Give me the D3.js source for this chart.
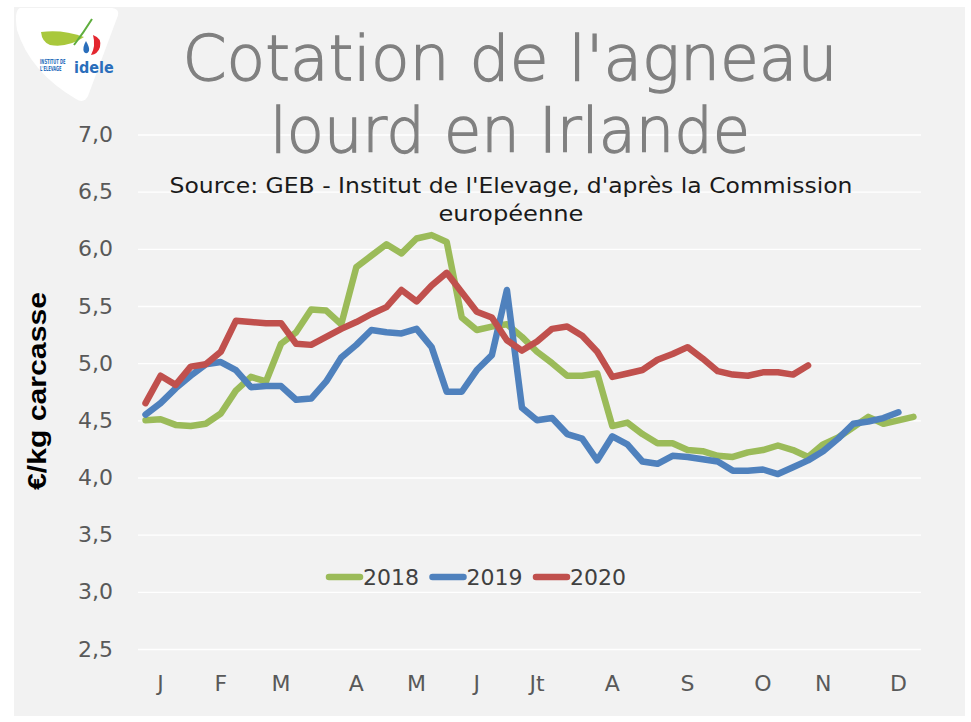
<!DOCTYPE html>
<html>
<head>
<meta charset="utf-8">
<script src="https://cdn.jsdelivr.net/npm/d3@7"></script>
<style>
  body { margin: 0; background: #ffffff; }
  svg text { font-family: "DejaVu Sans", sans-serif; }
</style>
</head>
<body>
<div id="chart"></div>
<script>
// semaines de l'année (axe catégoriel)
const weeks = d3.range(1, 53);
const months = ["J", "F", "M", "A", "M", "J", "Jt", "A", "S", "O", "N", "D"];
const monthWeeks = [2, 6, 10, 15, 19, 23, 27, 32, 37, 42, 46, 51];
const yTicks = [2.5, 3, 3.5, 4, 4.5, 5, 5.5, 6, 6.5, 7];
const years = ["2018", "2019", "2020"];

const prix2018 = [4.50, 4.51, 4.46, 4.45, 4.47, 4.56, 4.76, 4.88, 4.84, 5.17,
  5.27, 5.47, 5.46, 5.34, 5.84, 5.94, 6.04, 5.96, 6.09, 6.12,
  6.06, 5.40, 5.29, 5.32, 5.34, 5.23, 5.10, 5.00, 4.89, 4.89,
  4.91, 4.45, 4.48, 4.38, 4.30, 4.30, 4.24, 4.23, 4.19, 4.18,
  4.22, 4.24, 4.28, 4.24, 4.18, 4.29, 4.35, 4.44, 4.53, 4.47,
  4.50, 4.53];
const prix2019 = [4.55, 4.65, 4.78, 4.89, 4.99, 5.01, 4.94, 4.79, 4.80, 4.80,
  4.68, 4.69, 4.84, 5.05, 5.16, 5.29, 5.27, 5.26, 5.30, 5.14,
  4.75, 4.75, 4.94, 5.07, 5.64, 4.61, 4.50, 4.52, 4.38, 4.34,
  4.15, 4.36, 4.29, 4.14, 4.12, 4.19, 4.18, 4.16, 4.14, 4.06,
  4.06, 4.07, 4.03, 4.09, 4.15, 4.23, 4.34, 4.47, 4.49, 4.52,
  4.57];
const prix2020 = [4.65, 4.89, 4.81, 4.97, 4.99, 5.10, 5.37, 5.36, 5.35, 5.35,
  5.17, 5.16, 5.23, 5.30, 5.36, 5.43, 5.49, 5.64, 5.54, 5.68,
  5.79, 5.62, 5.45, 5.40, 5.20, 5.11, 5.19, 5.30, 5.32, 5.24,
  5.10, 4.88, 4.91, 4.94, 5.03, 5.08, 5.14, 5.04, 4.93, 4.90,
  4.89, 4.92, 4.92, 4.90, 4.98];

const colors = ["#9bbb59", "#4f81bd", "#c0504d"];

class Cotation {
  constructor(config) {
    this.config = config;
    this.svg = null;
    this.xScale = null;
    this.yScale = null;
    this.series = [prix2018, prix2019, prix2020];

    this.createSvg();
    this.createScales();
    this.renderLogo();
    this.createAxis();
    this.renderTitles();
    this.renderLines();
    this.renderLegend();
  }

  createSvg() {
    this.svg = d3.select(this.config.div)
      .append("svg")
      .attr("width", this.config.width)
      .attr("height", this.config.height);

    this.svg.append("rect")
      .attr("x", 14)
      .attr("y", 7)
      .attr("width", this.config.width - 20)
      .attr("height", this.config.height - 13)
      .attr("fill", "#f2f2f2");
  }

  createScales() {
    this.xScale = d3.scaleBand().domain(weeks).range([this.config.left, this.config.right]);
    this.yScale = d3.scaleLinear().domain([2.5, 7]).range([this.config.bottom, this.config.top]);
  }

  renderLogo() {
    const g = this.svg.append("g");
    g.append("path")
      .attr("d", "M20,8 L112,8 Q121,9 117,18 L88,96 Q84,104 76,99 Q30,72 17,30 Q14,10 20,8 Z")
      .attr("fill", "#ffffff");
    g.append("path")
      .attr("d", "M41,32 Q62,29 84,37 Q68,48 50,45 Q42,42 41,32 Z")
      .attr("fill", "#a9c83c");
    g.append("path")
      .attr("d", "M74,45 Q84,32 92,19")
      .attr("fill", "none")
      .attr("stroke", "#5fae3e")
      .attr("stroke-width", 2);
    g.append("path")
      .attr("d", "M93,35 Q102,38 100,47 Q98,54 91,55 Q96,46 93,35 Z")
      .attr("fill", "#e3262f");
    g.append("path")
      .attr("d", "M86,41 Q90,48 89,51 Q87,55 84,52 Q82,48 86,41 Z")
      .attr("fill", "#2a6ebb");
    [["INSTITUT DE", 64], ["L'ELEVAGE", 71]].forEach(d => {
      g.append("text")
        .attr("transform", `translate(40,${d[1]}) scale(0.52,1)`)
        .style("font-size", "7px").style("font-weight", "bold").attr("fill", "#2a6ebb")
        .text(d[0]);
    });
    g.append("text")
      .attr("transform", "translate(74,73) scale(0.9,1)")
      .style("font-size", "16px").style("font-weight", "bold").attr("fill", "#2a6ebb")
      .text("idele");
  }

  renderTitles() {
    const titles = [
      { t: "Cotation de l'agneau", y: 80, w: 655 },
      { t: "lourd en Irlande", y: 152, w: 480 }
    ];
    titles.forEach(d => {
      this.svg.append("text")
        .attr("x", 510).attr("y", d.y)
        .attr("text-anchor", "middle")
        .attr("textLength", d.w).attr("lengthAdjust", "spacingAndGlyphs")
        .style("font-size", "63px")
        .style("font-weight", "300")
        .attr("fill", "#808080")
        .attr("stroke", "#808080")
        .attr("stroke-width", 1.3)
        .text(d.t);
    });

    const sub = [
      { t: "Source: GEB - Institut de l'Elevage, d'après la Commission", y: 193, w: 683 },
      { t: "européenne", y: 221, w: 145 }
    ];
    sub.forEach(d => {
      this.svg.append("text")
        .attr("x", 511).attr("y", d.y)
        .attr("text-anchor", "middle")
        .attr("textLength", d.w).attr("lengthAdjust", "spacingAndGlyphs")
        .style("font-size", "22px")
        .attr("fill", "#1a1a1a")
        .text(d.t);
    });

    this.svg.append("text")
      .attr("transform", "rotate(-90)")
      .attr("x", -391)
      .attr("y", 46)
      .attr("text-anchor", "middle")
      .attr("textLength", 198).attr("lengthAdjust", "spacingAndGlyphs")
      .style("font-family", "'Liberation Sans', Arial, sans-serif")
      .style("font-size", "25px")
      .style("font-weight", "bold")
      .attr("fill", "#000000")
      .text("€/kg carcasse");
  }

  createAxis() {
    const w = this.config.right - this.config.left;
    const fmt = d => d3.format(".1f")(d).replace(".", ",");

    // grille
    const grid = this.svg.append("g")
      .attr("transform", `translate(${this.config.left},0)`)
      .call(d3.axisLeft(this.yScale).tickValues(yTicks).tickSize(-w).tickFormat(""));
    grid.select(".domain").remove();
    grid.selectAll("line").attr("stroke", "#ffffff").attr("stroke-width", 1.3);

    const yAxis = this.svg.append("g")
      .attr("transform", `translate(${this.config.left},0)`)
      .call(d3.axisLeft(this.yScale).tickValues(yTicks).tickSize(0).tickPadding(25).tickFormat(fmt));
    yAxis.select(".domain").remove();
    yAxis.selectAll("text")
      .style("font-size", "22px")
      .style("font-family", "'DejaVu Sans', sans-serif")
      .attr("fill", "#595959");

    const xAxis = this.svg.append("g")
      .attr("transform", `translate(0,${this.config.bottom})`)
      .call(d3.axisBottom(this.xScale).tickValues(monthWeeks).tickSize(0).tickPadding(26)
        .tickFormat((d, i) => months[i]));
    xAxis.select(".domain").remove();
    xAxis.selectAll("text")
      .style("font-size", "22px")
      .style("font-family", "'DejaVu Sans', sans-serif")
      .attr("fill", "#595959");
  }

  renderLines() {
    const bw = this.xScale.bandwidth();
    const line = d3.line()
      .x((d, i) => this.xScale(weeks[i]) + bw / 2)
      .y(d => this.yScale(d));

    this.series.forEach((s, k) => {
      this.svg.append("path")
        .datum(s)
        .attr("fill", "none")
        .attr("stroke", colors[k])
        .attr("stroke-width", 6.5)
        .attr("stroke-linejoin", "round")
        .attr("stroke-linecap", "round")
        .attr("d", line);
    });
  }

  renderLegend() {
    const lg = this.svg.append("g").attr("transform", "translate(327,577)");
    years.forEach((y, i) => {
      const x = i * 103.5;
      lg.append("line")
        .attr("x1", x + 2).attr("x2", x + 33)
        .attr("y1", 0).attr("y2", 0)
        .attr("stroke", colors[i])
        .attr("stroke-width", 6.5)
        .attr("stroke-linecap", "round");
      lg.append("text")
        .attr("x", x + 36).attr("y", 8)
        .style("font-size", "22px")
        .attr("fill", "#404040")
        .text(y);
    });
  }
}

new Cotation({ div: "#chart", width: 971, height: 722, left: 138, right: 921, top: 134.5, bottom: 649 });
</script>
</body>
</html>
